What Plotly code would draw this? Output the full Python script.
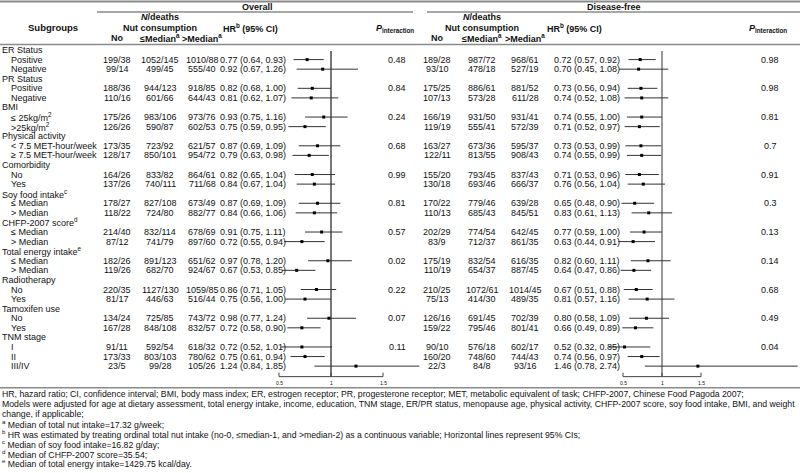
import plotly.graph_objects as go

# ---- table data ----
groups = ["ER Status", "PR Status", "BMI", "Physical activity", "Comorbidity",
          "Soy food intake<sup>c</sup>", "CHFP-2007 score<sup>d</sup>",
          "Total energy intake<sup>e</sup>", "Radiotherapy", "Tamoxifen use", "TNM stage"]
levels = [["Positive", "Negative"], ["Positive", "Negative"],
          ["≤ 25kg/m<sup>2</sup>", ">25kg/m<sup>2</sup>"],
          ["< 7.5 MET-hour/week", "≥ 7.5 MET-hour/week"], ["No", "Yes"],
          ["≤ Median", "> Median"], ["≤ Median", "> Median"], ["≤ Median", "> Median"],
          ["No", "Yes"], ["No", "Yes"], ["I", "II", "III/IV"]]

# Overall survival
ov_no = ["199/38", "99/14", "188/36", "110/16", "175/26", "126/26", "173/35", "128/17",
         "164/26", "137/26", "178/27", "118/22", "214/40", "87/12", "182/26", "119/26",
         "220/35", "81/17", "134/24", "167/28", "91/11", "173/33", "23/5"]
ov_low = ["1052/145", "499/45", "944/123", "601/66", "983/106", "590/87", "723/92", "850/101",
          "833/82", "740/111", "827/108", "724/80", "832/114", "741/79", "891/123", "682/70",
          "1127/130", "446/63", "725/85", "848/108", "592/54", "803/103", "99/28"]
ov_high = ["1010/88", "555/40", "918/85", "644/43", "973/76", "602/53", "621/57", "954/72",
           "864/61", "711/68", "673/49", "882/77", "678/69", "897/60", "651/62", "924/67",
           "1059/85", "516/44", "743/72", "832/57", "618/32", "780/62", "105/26"]
ov_hr = [0.77, 0.92, 0.82, 0.81, 0.93, 0.75, 0.87, 0.79, 0.82, 0.84, 0.87, 0.84,
         0.91, 0.72, 0.97, 0.67, 0.86, 0.75, 0.98, 0.72, 0.72, 0.75, 1.24]
ov_lo = [0.64, 0.67, 0.68, 0.62, 0.75, 0.59, 0.69, 0.63, 0.65, 0.67, 0.69, 0.66,
         0.75, 0.55, 0.78, 0.53, 0.71, 0.56, 0.77, 0.58, 0.52, 0.61, 0.84]
ov_hi = [0.93, 1.26, 1.00, 1.07, 1.16, 0.95, 1.09, 0.98, 1.04, 1.04, 1.09, 1.06,
         1.11, 0.94, 1.20, 0.85, 1.05, 1.00, 1.24, 0.90, 1.01, 0.94, 1.85]
ov_p = ["0.48", "0.84", "0.24", "0.68", "0.99", "0.81", "0.57", "0.02", "0.22", "0.07", "0.11"]

# Disease-free survival
df_no = ["189/28", "93/10", "175/25", "107/13", "166/19", "119/19", "163/27", "122/11",
         "155/20", "130/18", "170/22", "110/13", "202/29", "83/9", "175/19", "110/19",
         "210/25", "75/13", "126/16", "159/22", "90/10", "160/20", "22/3"]
df_low = ["987/72", "478/18", "886/61", "573/28", "931/50", "555/41", "673/36", "813/55",
          "793/45", "693/46", "779/46", "685/43", "774/54", "712/37", "832/54", "654/37",
          "1072/61", "414/30", "691/45", "795/46", "576/18", "748/60", "84/8"]
df_high = ["968/61", "527/19", "881/52", "611/28", "931/41", "572/39", "595/37", "908/43",
           "837/43", "666/37", "639/28", "845/51", "642/45", "861/35", "616/35", "887/45",
           "1014/45", "489/35", "702/39", "801/41", "602/17", "744/43", "93/16"]
df_hr = [0.72, 0.70, 0.73, 0.74, 0.74, 0.71, 0.73, 0.74, 0.71, 0.76, 0.65, 0.83,
         0.77, 0.63, 0.82, 0.64, 0.67, 0.81, 0.80, 0.66, 0.52, 0.74, 1.46]
df_lo = [0.57, 0.45, 0.56, 0.52, 0.55, 0.52, 0.53, 0.55, 0.53, 0.56, 0.48, 0.61,
         0.59, 0.44, 0.60, 0.47, 0.51, 0.57, 0.58, 0.49, 0.32, 0.56, 0.78]
df_hi = [0.92, 1.08, 0.94, 1.08, 1.00, 0.97, 0.99, 0.99, 0.96, 1.04, 0.90, 1.13,
         1.00, 0.91, 1.11, 0.86, 0.88, 1.16, 1.09, 0.89, 0.85, 0.97, 2.74]
df_p = ["0.98", "0.98", "0.81", "0.7", "0.91", "0.3", "0.13", "0.14", "0.68", "0.49", "0.04"]

tick_vals = [0.5, 1, 1.5]
tick_text = ["0.5", "1", "1.5"]

footnotes = [
    "HR, hazard ratio; CI, confidence interval; BMI, body mass index; ER, estrogen receptor; PR, progesterone receptor; MET, metabolic equivalent of task; CHFP-2007, Chinese Food Pagoda 2007;",
    "Models were adjusted for age at dietary assessment, total energy intake, income, education, TNM stage, ER/PR status, menopause age, physical activity, CHFP-2007 score, soy food intake, BMI, and weight",
    "change, if applicable;",
    "<sup>a</sup> Median of total nut intake=17.32 g/week;",
    "<sup>b</sup> HR was estimated by treating ordinal total nut intake (no-0, ≤median-1, and >median-2) as a continuous variable; Horizontal lines represent 95% CIs;",
    "<sup>c</sup> Median of soy food intake=16.82 g/day;",
    "<sup>d</sup> Median of CHFP-2007 score=35.54;",
    "<sup>e</sup> Median of total energy intake=1429.75 kcal/day.",
]

# ---- layout in pixels ----
W, H = 800, 473
Y0, PITCH = 50, 9.58
FS = 9
FONT = "Liberation Sans, Arial, sans-serif"
TXT = "#111"

ann = []
shapes = []


def text(x, y, s, anchor="left", size=FS, bold=False, xref="paper"):
    if bold:
        s = "<b>" + s + "</b>"
    ann.append(dict(x=x / W if xref == "paper" else x, y=y, xref=xref, yref="y", text=s,
                    showarrow=False, xanchor=anchor, yanchor="middle",
                    font=dict(size=size, color=TXT, family=FONT)))


# row positions
label_rows, data_rows, group_rows = [], [], []
r = 0
for g, lv in zip(groups, levels):
    label_rows.append((Y0 + r * PITCH, g, 0))
    group_rows.append(Y0 + (r + 1) * PITCH)
    r += 1
    for l in lv:
        label_rows.append((Y0 + r * PITCH, l, 9))
        data_rows.append(Y0 + r * PITCH)
        r += 1
last_y = Y0 + (r - 1) * PITCH
axis_y = last_y + 10.5

for y, s, x in label_rows:
    text(x, y, s)

# column x positions
cols = {
    "ov": dict(no=117, low=160, high=202, hr=218, hr_head=250, p=397,
               one=331, scale=104, left=258, right=425),
    "df": dict(no=437, low=482, high=525, hr=552, hr_head=574, p=770,
               one=662, scale=78, left=603, right=800),
}
sets = {
    "ov": (ov_no, ov_low, ov_high, ov_hr, ov_lo, ov_hi, ov_p),
    "df": (df_no, df_low, df_high, df_hr, df_lo, df_hi, df_p),
}

fig = go.Figure()

for k, ax in (("ov", "x"), ("df", "x2")):
    c = cols[k]
    no, low, high, hr, lo, hi, p = sets[k]
    for i, y in enumerate(data_rows):
        text(c["no"], y, no[i], "center")
        text(c["low"], y, low[i], "center")
        text(c["high"], y, high[i], "center")
        text(c["hr"], y, f"{hr[i]:.2f} ({lo[i]:.2f}, {hi[i]:.2f})")
    for y, s in zip(group_rows, p):
        text(c["p"], y, s, "center")

    # headers
    text(c["low"], 17, "<i>N</i>/deaths", "center", bold=True)
    text(c["low"], 27.5, "Nut consumption", "center", bold=True)
    text(c["no"], 38, "No", "center", bold=True)
    text(c["low"], 38, "≤Median<sup>a</sup>", "center", bold=True)
    text(c["high"], 38, ">Median<sup>a</sup>", "center", bold=True)
    text(c["hr_head"], 27.5, "HR<sup>b</sup> (95% CI)", "center", bold=True)
    text(c["p"] - 2, 28, "<i>P</i><sub>interaction</sub>", "center", bold=True)

    # forest plot
    ref_col = "#777" if k == "ov" else "#333"
    ref_w = 2 if k == "ov" else 1
    fig.add_trace(go.Scatter(
        x=[1, 1], y=[Y0 + 1, axis_y], mode="lines", xaxis=ax, yaxis="y",
        line=dict(color=ref_col, width=ref_w), hoverinfo="skip"))
    fig.add_trace(go.Scatter(
        x=hr, y=data_rows, mode="markers", xaxis=ax, yaxis="y",
        marker=dict(symbol="square", size=3, color="#000"),
        error_x=dict(type="data", symmetric=False,
                     array=[h - m for h, m in zip(hi, hr)],
                     arrayminus=[m - l for m, l in zip(hr, lo)],
                     width=0, thickness=1, color="#333")))
    tx, ty = [tick_vals[0], tick_vals[-1]], [axis_y, axis_y]
    for tv in tick_vals:
        tx += [None, tv, tv]
        ty += [None, axis_y, axis_y - 4]
    fig.add_trace(go.Scatter(x=tx, y=ty, mode="lines", xaxis=ax, yaxis="y",
                             line=dict(color="#444", width=1), hoverinfo="skip"))
    for tv, tt in zip(tick_vals, tick_text):
        text(tv, axis_y + 6, tt, "center", size=5, xref=ax)

    rng_lo = 1 - (c["one"] - c["left"]) / c["scale"]
    rng_hi = 1 + (c["right"] - c["one"]) / c["scale"]
    axname = "xaxis" if k == "ov" else "xaxis2"
    fig.layout[axname] = dict(domain=[c["left"] / W, c["right"] / W], range=[rng_lo, rng_hi],
                              visible=False, anchor="y", fixedrange=True)

text(53, 27.5, "Subgroups", "center", size=9.5, bold=True)
text(257, 6.5, "Overall", "center", bold=True)
text(614, 6.5, "Disease-free", "center", bold=True)

# rules
LC = "#8a8a8a"
for x0, x1, y, w in [(0, 800, 1.5, 2), (97, 413, 12, 1.5), (427, 800, 12, 1.5),
                     (0, 800, 44.5, 1.5), (0, 800, axis_y + 11, 1.5)]:
    shapes.append(dict(type="line", xref="paper", yref="y", x0=x0 / W, x1=x1 / W,
                       y0=y, y1=y, line=dict(color=LC, width=w)))

# footnotes
fy = axis_y + 17.5
for i, s in enumerate(footnotes):
    text(0, fy + i * 9.9, s, size=8.7)

fig.update_layout(
    width=W, height=H, margin=dict(l=0, r=0, t=0, b=0),
    paper_bgcolor="white", plot_bgcolor="rgba(0,0,0,0)",
    showlegend=False, annotations=ann, shapes=shapes,
    yaxis=dict(domain=[0, 1], range=[H, 0], visible=False, fixedrange=True),
)

fig.write_html("out.html", config={"displayModeBar": False},
               post_script="document.body.style.margin='0';")
